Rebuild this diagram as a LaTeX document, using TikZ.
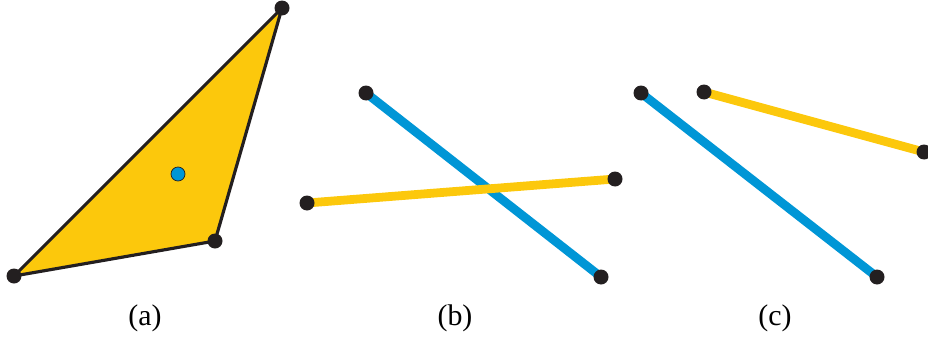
\documentclass[tikz,border=0pt]{standalone}
\usepackage{fontspec}
\setmainfont{Liberation Serif}
\definecolor{segyellow}{RGB}{252,200,12}
\definecolor{segblue}{RGB}{0,150,214}
\definecolor{dotblack}{RGB}{35,31,32}

\begin{document}
\begin{tikzpicture}[
  x=0.02cm, y=-0.02cm,
  tripatch/.style={draw=dotblack, line width=1.8pt, fill=segyellow, line join=round},
  bluesegment/.style={draw=segblue, line width=5pt},
  yellowsegment/.style={draw=segyellow, line width=5pt},
  enddot/.style={circle, fill=dotblack, inner sep=0pt, minimum size=0.30cm},
  centerdot/.style={circle, draw=dotblack, line width=0.4pt, fill=segblue,
    inner sep=0pt, minimum size=0.28cm},
  caption/.style={font=\fontsize{17}{20}\selectfont}
]
\useasboundingbox (0,0) rectangle (928,338);

% (a) triangle
\coordinate (tri1) at (14,276);
\coordinate (tri2) at (282,8);
\coordinate (tri3) at (215,241);
\draw[tripatch] (tri1) -- (tri2) -- (tri3) -- cycle;
\foreach \p in {tri1,tri2,tri3} \node[enddot] at (\p) {};
\node[centerdot] (query) at (178,174) {};
\node[caption] (capa) at (145,318) {(a)};

% (b) crossing segments
\coordinate (bblue1) at (366,93);
\coordinate (bblue2) at (601,277);
\coordinate (byel1) at (307,203);
\coordinate (byel2) at (615,179);
\draw[bluesegment] (bblue1) -- (bblue2);
\draw[yellowsegment] (byel1) -- (byel2);
\foreach \p in {bblue1,bblue2,byel1,byel2} \node[enddot] at (\p) {};
\node[caption] (capb) at (455,318) {(b)};

% (c) disjoint segments
\coordinate (cblue1) at (641,93);
\coordinate (cblue2) at (877,277);
\coordinate (cyel1) at (704,92);
\coordinate (cyel2) at (924,152);
\draw[bluesegment] (cblue1) -- (cblue2);
\draw[yellowsegment] (cyel1) -- (cyel2);
\foreach \p in {cblue1,cblue2,cyel1,cyel2} \node[enddot] at (\p) {};
\node[caption] (capc) at (775,318) {(c)};
\end{tikzpicture}
\end{document}
